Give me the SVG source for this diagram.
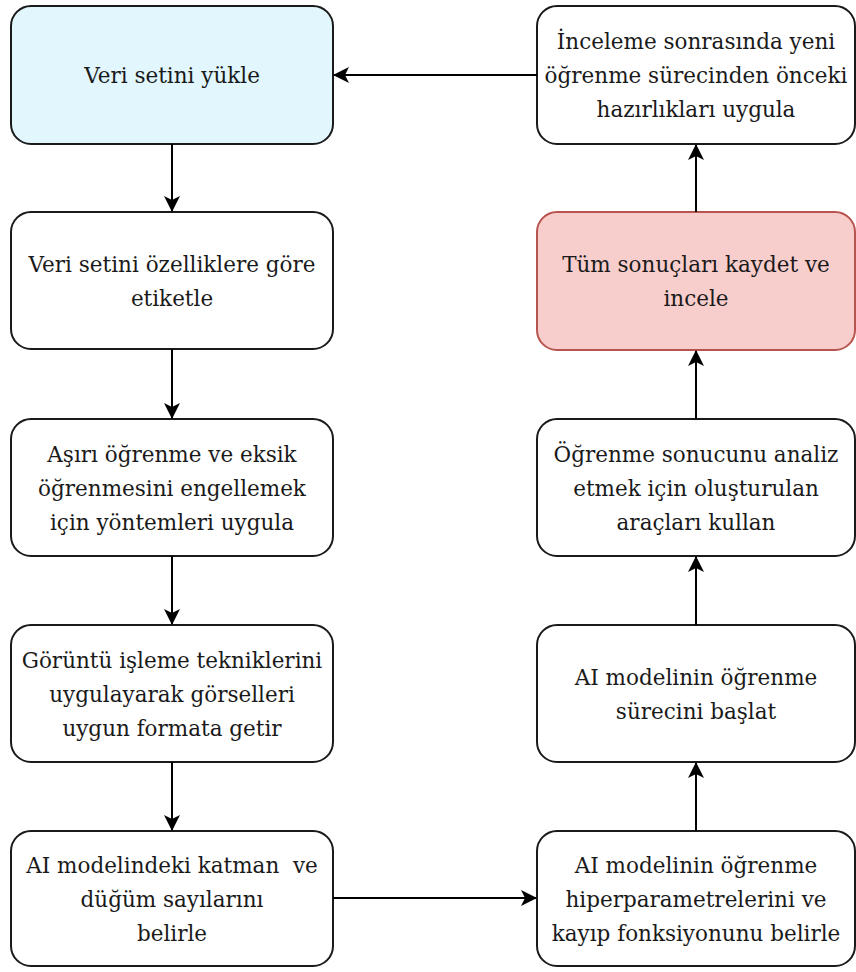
<svg xmlns="http://www.w3.org/2000/svg" width="856" height="972" viewBox="0 0 856 972">
  <style>
    .box { fill: #ffffff; stroke: #1a1a1a; stroke-width: 2; }
    .start { fill: #e1f7fd; }
    .review { fill: #f8cecc; stroke: #b85450; }
    .lbl { font-family: 'DejaVu Serif', serif; font-size: 21.5px; fill: #1a1a1a; text-anchor: middle; }
    .edge { fill: none; stroke: #000000; stroke-width: 2; marker-end: url(#arrow); }
  </style>
  <defs>
    <marker id="arrow" viewBox="0 0 16 16" refX="15" refY="8" markerWidth="16" markerHeight="16" markerUnits="userSpaceOnUse" orient="auto">
      <path d="M0,0 L16,8 L0,16 L4,8 Z" fill="#000000"/>
    </marker>
  </defs>

  <rect width="856" height="972" fill="#ffffff"/>

  <!-- left column -->
  <g id="load-dataset">
    <rect class="box start" x="11" y="6" width="322" height="138" rx="20"/>
    <text class="lbl" x="172" y="83">Veri setini yükle</text>
  </g>
  <g id="label-dataset">
    <rect class="box" x="11" y="212" width="322" height="137" rx="20"/>
    <text class="lbl" x="172" y="272">Veri setini özelliklere göre</text>
    <text class="lbl" x="172" y="306">etiketle</text>
  </g>
  <g id="regularize">
    <rect class="box" x="11" y="419" width="322" height="137" rx="20"/>
    <text class="lbl" x="172" y="462">Aşırı öğrenme ve eksik</text>
    <text class="lbl" x="172" y="496">öğrenmesini engellemek</text>
    <text class="lbl" x="172" y="530">için yöntemleri uygula</text>
  </g>
  <g id="image-processing">
    <rect class="box" x="11" y="625" width="322" height="137" rx="20"/>
    <text class="lbl" x="172" y="668">Görüntü işleme tekniklerini</text>
    <text class="lbl" x="172" y="702">uygulayarak görselleri</text>
    <text class="lbl" x="172" y="736">uygun formata getir</text>
  </g>
  <g id="layers-nodes">
    <rect class="box" x="11" y="831" width="322" height="135" rx="20"/>
    <text class="lbl" x="172" y="873" xml:space="preserve">AI modelindeki katman  ve</text>
    <text class="lbl" x="172" y="907">düğüm sayılarını</text>
    <text class="lbl" x="172" y="941">belirle</text>
  </g>

  <!-- right column -->
  <g id="hyperparameters">
    <rect class="box" x="537" y="831" width="318" height="135" rx="20"/>
    <text class="lbl" x="696" y="873">AI modelinin öğrenme</text>
    <text class="lbl" x="696" y="907">hiperparametrelerini ve</text>
    <text class="lbl" x="696" y="941">kayıp fonksiyonunu belirle</text>
  </g>
  <g id="start-training">
    <rect class="box" x="537" y="625" width="318" height="137" rx="20"/>
    <text class="lbl" x="696" y="685">AI modelinin öğrenme</text>
    <text class="lbl" x="696" y="719">sürecini başlat</text>
  </g>
  <g id="analysis-tools">
    <rect class="box" x="537" y="419" width="318" height="137" rx="20"/>
    <text class="lbl" x="696" y="462">Öğrenme sonucunu analiz</text>
    <text class="lbl" x="696" y="496">etmek için oluşturulan</text>
    <text class="lbl" x="696" y="530">araçları kullan</text>
  </g>
  <g id="save-results">
    <rect class="box review" x="537" y="212" width="318" height="138" rx="20"/>
    <text class="lbl" x="696" y="272">Tüm sonuçları kaydet ve</text>
    <text class="lbl" x="696" y="306">incele</text>
  </g>
  <g id="prepare-next">
    <rect class="box" x="537" y="6" width="318" height="138" rx="20"/>
    <text class="lbl" x="696" y="49">İnceleme sonrasında yeni</text>
    <text class="lbl" x="696" y="83">öğrenme sürecinden önceki</text>
    <text class="lbl" x="696" y="117">hazırlıkları uygula</text>
  </g>

  <!-- connectors -->
  <g id="connectors">
    <path class="edge" d="M172,144 L172,211"/>
    <path class="edge" d="M172,349 L172,418"/>
    <path class="edge" d="M172,556 L172,624"/>
    <path class="edge" d="M172,762 L172,830"/>
    <path class="edge" d="M333,898 L536,898"/>
    <path class="edge" d="M696,831 L696,763"/>
    <path class="edge" d="M696,625 L696,557"/>
    <path class="edge" d="M696,419 L696,351"/>
    <path class="edge" d="M696,212 L696,145"/>
    <path class="edge" d="M537,75 L334,75"/>
  </g>
</svg>
